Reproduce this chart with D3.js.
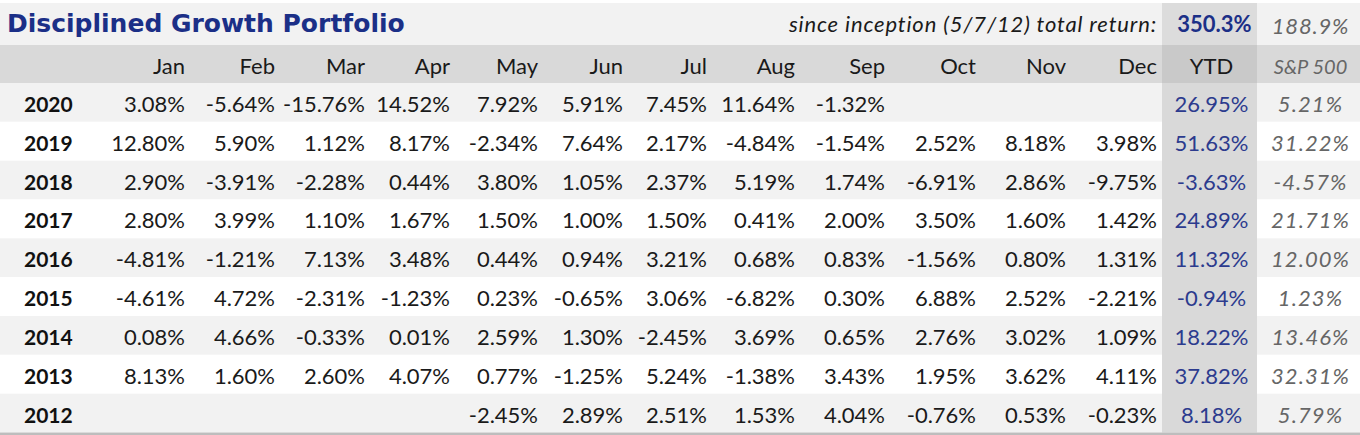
<!DOCTYPE html>
<html>
<head>
<meta charset="utf-8">
<script src="https://cdn.jsdelivr.net/npm/d3@7/dist/d3.min.js"></script>
<style>
  html, body { margin: 0; padding: 0; background: #ffffff; }
  svg { display: block; }
</style>
</head>
<body>
<div id="chart"></div>
<script>
// ---------------- DATA ----------------
const title = "Disciplined Growth Portfolio";
const inceptionLabel = "since inception (5/7/12) total return:";
const totalReturn = 350.3;
const spTotalReturn = 188.9;
const months = ["Jan","Feb","Mar","Apr","May","Jun","Jul","Aug","Sep","Oct","Nov","Dec"];
const years = [2020, 2019, 2018, 2017, 2016, 2015, 2014, 2013, 2012];
const r2020 = [3.08, -5.64, -15.76, 14.52, 7.92, 5.91, 7.45, 11.64, -1.32, null, null, null];
const r2019 = [12.80, 5.90, 1.12, 8.17, -2.34, 7.64, 2.17, -4.84, -1.54, 2.52, 8.18, 3.98];
const r2018 = [2.90, -3.91, -2.28, 0.44, 3.80, 1.05, 2.37, 5.19, 1.74, -6.91, 2.86, -9.75];
const r2017 = [2.80, 3.99, 1.10, 1.67, 1.50, 1.00, 1.50, 0.41, 2.00, 3.50, 1.60, 1.42];
const r2016 = [-4.81, -1.21, 7.13, 3.48, 0.44, 0.94, 3.21, 0.68, 0.83, -1.56, 0.80, 1.31];
const r2015 = [-4.61, 4.72, -2.31, -1.23, 0.23, -0.65, 3.06, -6.82, 0.30, 6.88, 2.52, -2.21];
const r2014 = [0.08, 4.66, -0.33, 0.01, 2.59, 1.30, -2.45, 3.69, 0.65, 2.76, 3.02, 1.09];
const r2013 = [8.13, 1.60, 2.60, 4.07, 0.77, -1.25, 5.24, -1.38, 3.43, 1.95, 3.62, 4.11];
const r2012 = [null, null, null, null, -2.45, 2.89, 2.51, 1.53, 4.04, -0.76, 0.53, -0.23];
const monthly = [r2020, r2019, r2018, r2017, r2016, r2015, r2014, r2013, r2012];
const ytd = [26.95, 51.63, -3.63, 24.89, 11.32, -0.94, 18.22, 37.82, 8.18];
const sp500 = [5.21, 31.22, -4.57, 21.71, 12.00, 1.23, 13.46, 32.31, 5.79];

// ---------------- LAYOUT ----------------
const W = 1360, H = 435;
const colKeys = ["year", ...months, "YTD", "SP"];
const colWidths = [100, 90, 90, 90, 85, 88, 85, 84, 88, 90, 91, 90, 91, 95, 103];
const colLeft = d3.scaleOrdinal().domain(colKeys)
  .range(colKeys.map((k, i) => d3.sum(colWidths.slice(0, i))));
const colW = d3.scaleOrdinal().domain(colKeys).range(colWidths);
const rightEdge = k => colLeft(k) + colW(k) - 5;
const centerX = k => colLeft(k) + colW(k) / 2;

const titleTop = 3, titleBottom = 45, headerBottom = 83, tableBottom = 432.5;
const y = d3.scaleBand().domain(years).range([headerBottom, tableBottom]).padding(0);

const fmt = v => (v < 0 ? "-" : "") + Math.abs(v).toFixed(2) + "%";
const fmt1 = v => v.toFixed(1) + "%";

const FONT = "Lato, 'Open Sans', sans-serif";
const C = {
  bandLight: "#f2f2f2", header: "#d9d9d9", ytdCol: "#d9d9d9", ytdHeader: "#c9c9c9",
  ytdTitle: "#dcdcdc", navy: "#1b2f87", ytdText: "#2c3b8e", text: "#1a1a1a",
  gray: "#666666", bottomLine: "#bdbdbd"
};

const svg = d3.select("#chart").append("svg").attr("width", W).attr("height", H);

// Title band
svg.append("rect").attr("x", 0).attr("y", titleTop).attr("width", W)
  .attr("height", titleBottom - titleTop).attr("fill", C.bandLight);
svg.append("rect").attr("x", colLeft("YTD")).attr("y", titleTop).attr("width", colW("YTD"))
  .attr("height", titleBottom - titleTop).attr("fill", C.ytdTitle);

// Header band
svg.append("rect").attr("x", 0).attr("y", titleBottom).attr("width", W)
  .attr("height", headerBottom - titleBottom).attr("fill", C.header);
svg.append("rect").attr("x", colLeft("YTD")).attr("y", titleBottom).attr("width", colW("YTD"))
  .attr("height", headerBottom - titleBottom).attr("fill", C.ytdHeader);

// Row bands
svg.append("g").selectAll("rect").data(years).join("rect")
  .attr("x", 0).attr("y", d => y(d)).attr("width", W).attr("height", y.bandwidth())
  .attr("fill", (d, i) => i % 2 === 0 ? C.bandLight : "#ffffff");
svg.append("rect").attr("x", colLeft("YTD")).attr("y", headerBottom)
  .attr("width", colW("YTD")).attr("height", tableBottom - headerBottom).attr("fill", C.ytdCol);

// Bottom rule
svg.append("rect").attr("x", 0).attr("y", tableBottom).attr("width", W)
  .attr("height", H - tableBottom).attr("fill", C.bottomLine);

// Title texts
svg.append("text").attr("x", 7).attr("y", 32)
  .attr("font-family", "'DejaVu Sans', Verdana, sans-serif").attr("font-weight", "bold")
  .attr("font-size", 25).attr("fill", C.navy).text(title);
svg.append("text").attr("x", rightEdge("Dec")).attr("y", 32).attr("text-anchor", "end")
  .attr("font-family", FONT).attr("font-style", "italic").attr("font-size", 22)
  .attr("letter-spacing", 0.85).attr("fill", C.text).text(inceptionLabel);
svg.append("text").attr("x", centerX("YTD") + 5).attr("y", 32).attr("text-anchor", "middle")
  .attr("font-family", FONT).attr("font-weight", "bold").attr("font-size", 22)
  .attr("fill", C.navy).text(fmt1(totalReturn));
svg.append("text").attr("x", centerX("SP") + 2).attr("y", 34).attr("text-anchor", "middle")
  .attr("font-family", FONT).attr("font-style", "italic").attr("font-size", 22)
  .attr("letter-spacing", 0.8).attr("fill", C.gray).text(fmt1(spTotalReturn));

// Header labels
const hy = 74;
svg.append("g").selectAll("text").data(months).join("text")
  .attr("x", d => rightEdge(d)).attr("y", hy).attr("text-anchor", "end")
  .attr("font-family", FONT).attr("font-size", 22).attr("fill", C.text).text(d => d);
svg.append("text").attr("x", centerX("YTD") + 2).attr("y", hy).attr("text-anchor", "middle")
  .attr("font-family", FONT).attr("font-size", 22).attr("fill", C.text).text("YTD");
svg.append("text").attr("x", centerX("SP") + 2).attr("y", hy).attr("text-anchor", "middle")
  .attr("font-family", FONT).attr("font-style", "italic").attr("font-size", 20)
  .attr("fill", C.gray).text("S&P 500");

// Rows
const baseOff = y.bandwidth() / 2 + 9.5;
const rows = svg.append("g").selectAll("g").data(years).join("g")
  .attr("transform", d => `translate(0,${y(d) + baseOff})`);

rows.append("text").attr("x", 24).attr("font-family", FONT).attr("font-weight", "bold")
  .attr("font-size", 21).attr("fill", "#111").text(d => d);

rows.each(function(yr, i) {
  const cells = months.map((m, j) => ({ m, v: monthly[i][j] })).filter(c => c.v !== null);
  d3.select(this).selectAll("text.m").data(cells).join("text").attr("class", "m")
    .attr("x", c => rightEdge(c.m)).attr("text-anchor", "end")
    .attr("font-family", FONT).attr("font-size", 22).attr("fill", C.text)
    .text(c => fmt(c.v));
});

rows.append("text").attr("x", centerX("YTD") + 2).attr("text-anchor", "middle")
  .attr("font-family", FONT).attr("font-size", 22).attr("fill", C.ytdText)
  .text((d, i) => fmt(ytd[i]));
rows.append("text").attr("x", centerX("SP") + 2).attr("text-anchor", "middle")
  .attr("font-family", FONT).attr("font-style", "italic").attr("font-size", 22)
  .attr("letter-spacing", 1.1).attr("fill", C.gray).text((d, i) => fmt(sp500[i]));
</script>
</body>
</html>
